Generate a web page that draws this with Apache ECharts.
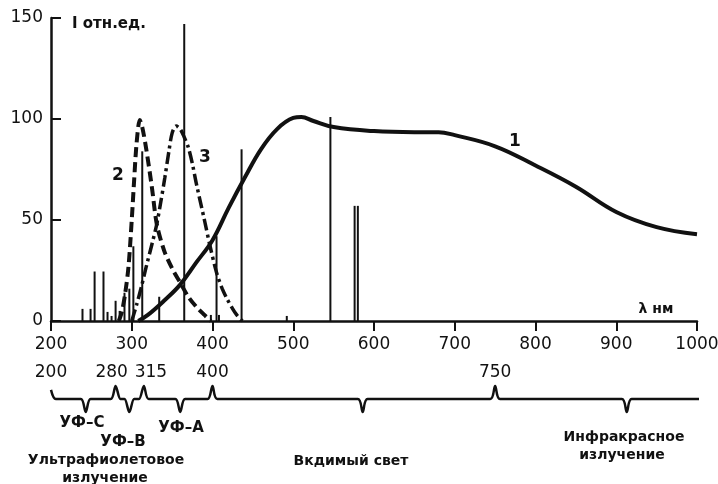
<!DOCTYPE html>
<html>
<head>
<meta charset="utf-8">
<script src="https://cdn.jsdelivr.net/npm/echarts@6/dist/echarts.min.js"></script>
<style>
  html, body { margin: 0; padding: 0; background: #fff; }
  #chart { width: 718px; height: 484px; }
</style>
</head>
<body>
<div id="chart"></div>
<script>
// wavelength scale, nm
const xTicks = [200, 300, 400, 500, 600, 700, 800, 900, 1000];
const yTicks = [0, 50, 100, 150];

// curve 1 (lamp spectrum)
const c1Nm  = [308, 320, 340, 360, 380, 400, 420, 440, 460, 480, 500, 510, 525, 550, 600, 650, 680, 700, 750, 800, 850, 900, 950, 1000];
const c1Val = [0,   3,   10,  18,  29,  40,  56,  71,  85,  95,  100.5, 101, 99, 96, 94, 93.5, 93.5, 92, 86.5, 77, 66.5, 54, 46.5, 43];

// curve 2 (dashed)
const c2Nm  = [284, 288, 292, 296, 300, 303, 306, 310, 313, 318, 325, 331, 340, 350, 360, 370, 380, 390, 398];
const c2Val = [0,   5,   14,  27,  50,  70,  88,  99.5, 96, 85,  66,  48,  35,  26,  19,  12,  7,   3,   0];

// curve 3 (dash-dot)
const c3Nm  = [300, 306, 312, 318, 325, 331, 336, 341, 346, 350, 355, 360, 365, 370, 375, 380, 390, 397, 405, 412, 418, 425, 430, 437];
const c3Val = [0,   8,   17,  27,  38,  48,  59,  71,  84,  93,  96.5, 95,  91,  86,  78,  68,  50,  37,  24,  16,  11,  6,   3,   0];

// spectral lines
const lineNm  = [239, 249, 254, 265, 270, 275, 280, 285, 291, 297, 302, 313, 334, 365, 398, 405, 408, 436, 492, 546, 576, 580];
const lineVal = [6,   6,   24.5, 24.5, 4.5, 2.5, 10, 5,   14,  16,  37,  84,  12,  147, 3,   42,  3,   85,  2.5, 101, 57,  57];

// lower scale with braces
const braceBounds = [200, 280, 315, 400, 750, 1013];
const braceTips = [243, 297, 360, 586, 913];
const braceLabels = [200, 280, 315, 400, 750];

const zip = (a, b) => a.map((v, i) => [v, b[i]]);

// brace outline from bounds and tips
const d = 6;
const brace = [[200, 0.7]];
for (let i = 0; i < braceTips.length; i++) {
  const a = braceBounds[i], b = braceBounds[i + 1], m = braceTips[i];
  brace.push([a + d, 0], [m - d, 0], [m, -1], [m + d, 0], [b - d, 0]);
  brace.push(i < braceTips.length - 1 ? [b, 1] : [b, 0]);
}

const font = 'DejaVu Sans';
const ink = '#111';

const chart = echarts.init(document.getElementById('chart'));

const txt = (text, x, y, size, weight) => ({
  type: 'text', x, y, silent: true,
  style: {
    text, fill: ink, font: (weight || 'bold') + ' ' + size + 'px "' + font + '"',
    textAlign: 'center', textVerticalAlign: 'middle', verticalAlign: 'middle'
  }
});

chart.setOption({
  animation: false,
  backgroundColor: '#fff',
  grid: [
    { left: 51, right: 21, top: 18, bottom: 163, outerBoundsMode: 'none' },
    { left: 51, right: 21, top: 386, height: 26, outerBoundsMode: 'none' }
  ],
  xAxis: [{
    type: 'value', min: 200, max: 1000, interval: 100,
    axisLine: { lineStyle: { color: ink, width: 2.5 } },
    axisTick: { length: 10, lineStyle: { color: ink, width: 2 } },
    axisLabel: { color: ink, fontFamily: font, fontSize: 17, margin: 15, formatter: v => String(v) },
    splitLine: { show: false }
  }, {
    type: 'value', gridIndex: 1, min: 200, max: 1000, position: 'top',
    axisLine: { show: false },
    axisTick: { show: false },
    splitLine: { show: false },
    axisLabel: {
      customValues: braceLabels, color: ink, fontFamily: font, fontSize: 17, margin: 5,
      formatter: v => v === 280 ? '{a|280}' : v === 315 ? '{b|315}' : String(v),
      rich: {
        a: { fontFamily: font, fontSize: 17, color: ink, padding: [0, 8, 0, 0] },
        b: { fontFamily: font, fontSize: 17, color: ink, padding: [0, 0, 0, 14] }
      }
    }
  }],
  yAxis: [{
    type: 'value', min: 0, max: 150, interval: 50,
    axisLine: { show: true, lineStyle: { color: ink, width: 2.5 } },
    axisTick: { show: true, inside: true, length: 10, lineStyle: { color: ink, width: 2 } },
    axisLabel: { color: ink, fontFamily: font, fontSize: 17, margin: 8 },
    splitLine: { show: false }
  }, {
    type: 'value', gridIndex: 1, min: -1, max: 1, show: false
  }],
  series: [{
    type: 'bar', name: 'lines', data: zip(lineNm, lineVal),
    barWidth: 2, itemStyle: { color: ink }, silent: true
  }, {
    type: 'line', name: '1', data: zip(c1Nm, c1Val), smooth: 0.4,
    showSymbol: false, lineStyle: { color: ink, width: 4 }
  }, {
    type: 'line', name: '2', data: zip(c2Nm, c2Val), smooth: 0.3,
    showSymbol: false, lineStyle: { color: ink, width: 4, type: [10, 5] }
  }, {
    type: 'line', name: '3', data: zip(c3Nm, c3Val), smooth: 0.3,
    showSymbol: false, lineStyle: { color: ink, width: 3.5, type: [12, 4, 3, 4] }
  }, {
    type: 'line', name: 'brace', xAxisIndex: 1, yAxisIndex: 1, data: brace,
    smooth: 0.3, clip: false, showSymbol: false,
    lineStyle: { color: ink, width: 2.5 }
  }],
  graphic: [
    { type: 'text', x: 72, y: 17, silent: true,
      style: { text: 'I отн.ед.', fill: ink, font: 'bold 15px "' + font + '"' } },
    txt('λ нм', 656, 309, 14),
    txt('1', 515, 142, 17),
    txt('2', 118, 176, 17),
    txt('3', 205, 158, 17),
    txt('УФ–С', 82, 423, 15),
    txt('УФ–В', 123, 442, 15),
    txt('УФ–А', 181, 428, 15),
    txt('Ультрафиолетовое', 106, 460, 14),
    txt('излучение', 105, 478, 14),
    txt('Вкдимый свет', 351, 461, 14),
    txt('Инфракрасное', 624, 437, 14),
    txt('излучение', 622, 455, 14)
  ]
});
</script>
</body>
</html>
